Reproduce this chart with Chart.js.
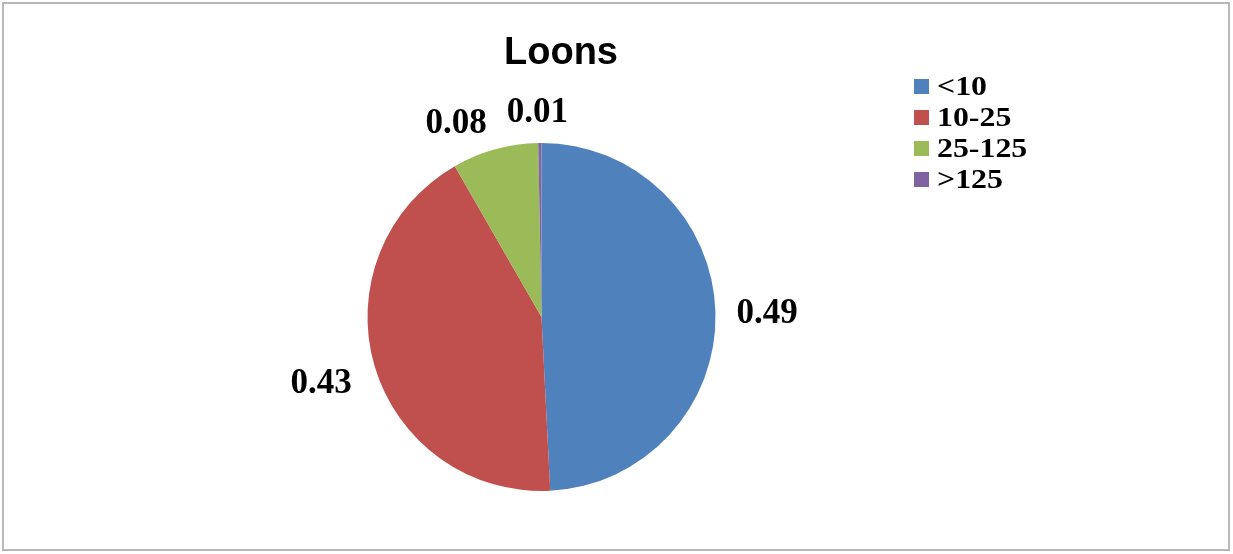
<!DOCTYPE html>
<html>
<head>
<meta charset="utf-8">
<script src="https://cdn.jsdelivr.net/npm/chart.js@4.4.1/dist/chart.umd.min.js"></script>
<style>
html,body{margin:0;padding:0;background:#fff;}
#wrap{width:1233px;height:554px;position:relative;}
</style>
</head>
<body>
<div id="wrap"><canvas id="c" width="1233" height="554"></canvas></div>
<script>
const categories = ["<10", "10-25", "25-125", ">125"];
const shares = [0.492, 0.425, 0.080, 0.003];
const shareLabels = ["0.49", "0.43", "0.08", "0.01"];
const sliceColors = ["#4F81BD", "#C0504D", "#9BBB59", "#8064A2"];
const chartTitle = "Loons";

const decor = {
  id: 'decor',
  beforeDraw(chart) {
    const ctx = chart.ctx;
    ctx.save();
    ctx.fillStyle = '#fff';
    ctx.fillRect(0, 0, chart.width, chart.height);
    ctx.strokeStyle = '#b8b8b8';
    ctx.lineWidth = 2;
    ctx.strokeRect(3, 3, 1226, 547);
    ctx.restore();
  },
  afterDraw(chart, args, opts) {
    const ctx = chart.ctx;
    ctx.save();
    // title
    ctx.fillStyle = '#000';
    ctx.font = 'bold 38px "Liberation Sans", Arial, sans-serif';
    ctx.textAlign = 'center';
    ctx.textBaseline = 'middle';
    ctx.fillText(chartTitle, 561, 54);

    // data labels outside each slice
    const meta = chart.getDatasetMeta(0);
    ctx.font = 'bold 35px "Liberation Serif", "Times New Roman", serif';
    const h = 26, gap = 22;
    meta.data.forEach((arc, i) => {
      const p = arc.getProps(['x','y','startAngle','endAngle','outerRadius'], true);
      const mid = (p.startAngle + p.endAngle) / 2;
      const dx = Math.cos(mid), dy = Math.sin(mid);
      const txt = shareLabels[i];
      const w = ctx.measureText(txt).width;
      let cx = p.x + dx * (p.outerRadius + gap) + dx * w / 2;
      let cy = p.y + dy * (p.outerRadius + gap) + dy * h / 2;
      const n = opts.nudge[i] || [0, 0];
      ctx.fillText(txt, cx + n[0], cy + n[1]);
    });

    // legend
    ctx.font = 'bold 27px "Liberation Serif", "Times New Roman", serif';
    ctx.textAlign = 'left';
    categories.forEach((c, i) => {
      const y = opts.legendY + i * opts.legendStep;
      ctx.fillStyle = sliceColors[i];
      ctx.fillRect(opts.legendX, y - 8, 15, 15);
      ctx.fillStyle = '#000';
      ctx.save();
      ctx.translate(opts.legendX + 23, y + 1);
      ctx.scale(1.18, 1);
      ctx.fillText(c, 0, 0);
      ctx.restore();
    });
    ctx.restore();
  }
};

new Chart(document.getElementById('c'), {
  type: 'pie',
  data: {
    labels: categories,
    datasets: [{
      data: shares,
      backgroundColor: sliceColors,
      borderWidth: 0
    }]
  },
  options: {
    responsive: false,
    animation: false,
    layout: { padding: { left: 367, right: 517, top: 143, bottom: 63 } },
    plugins: {
      legend: { display: false },
      title: { display: false },
      tooltip: { enabled: false },
      decor: { nudge: [[-1,2],[-3,8],[-25,8],[-2,5]], legendX: 914, legendY: 87, legendStep: 31 }
    }
  },
  plugins: [decor]
});
</script>
</body>
</html>
